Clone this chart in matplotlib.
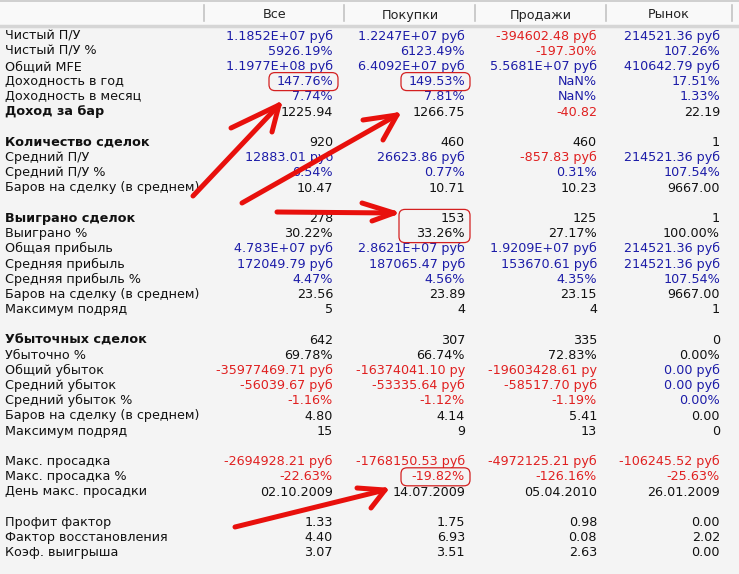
import matplotlib
matplotlib.use("Agg")
import matplotlib.pyplot as plt
from matplotlib.patches import FancyBboxPatch

# column headers
headers = ["Все", "Покупки", "Продажи", "Рынок"]

# row labels, None = empty spacer row
labels = [
    "Чистый П/У", "Чистый П/У %", "Общий MFE", "Доходность в год",
    "Доходность в месяц", "Доход за бар", None,
    "Количество сделок", "Средний П/У", "Средний П/У %",
    "Баров на сделку (в среднем)", None,
    "Выиграно сделок", "Выиграно %", "Общая прибыль", "Средняя прибыль",
    "Средняя прибыль %", "Баров на сделку (в среднем)", "Максимум подряд", None,
    "Убыточных сделок", "Убыточно %", "Общий убыток", "Средний убыток",
    "Средний убыток %", "Баров на сделку (в среднем)", "Максимум подряд", None,
    "Макс. просадка", "Макс. просадка %", "День макс. просадки", None,
    "Профит фактор", "Фактор восстановления", "Коэф. выигрыша",
]
bold_labels = {"Доход за бар", "Количество сделок", "Выиграно сделок", "Убыточных сделок"}

col_all = [
    "1.1852E+07 руб", "5926.19%", "1.1977E+08 руб", "147.76%", "7.74%", "1225.94", None,
    "920", "12883.01 руб", "0.54%", "10.47", None,
    "278", "30.22%", "4.783E+07 руб", "172049.79 руб", "4.47%", "23.56", "5", None,
    "642", "69.78%", "-35977469.71 руб", "-56039.67 руб", "-1.16%", "4.80", "15", None,
    "-2694928.21 руб", "-22.63%", "02.10.2009", None,
    "1.33", "4.40", "3.07",
]
col_long = [
    "1.2247E+07 руб", "6123.49%", "6.4092E+07 руб", "149.53%", "7.81%", "1266.75", None,
    "460", "26623.86 руб", "0.77%", "10.71", None,
    "153", "33.26%", "2.8621E+07 руб", "187065.47 руб", "4.56%", "23.89", "4", None,
    "307", "66.74%", "-16374041.10 ру", "-53335.64 руб", "-1.12%", "4.14", "9", None,
    "-1768150.53 руб", "-19.82%", "14.07.2009", None,
    "1.75", "6.93", "3.51",
]
col_short = [
    "-394602.48 руб", "-197.30%", "5.5681E+07 руб", "NaN%", "NaN%", "-40.82", None,
    "460", "-857.83 руб", "0.31%", "10.23", None,
    "125", "27.17%", "1.9209E+07 руб", "153670.61 руб", "4.35%", "23.15", "4", None,
    "335", "72.83%", "-19603428.61 ру", "-58517.70 руб", "-1.19%", "5.41", "13", None,
    "-4972125.21 руб", "-126.16%", "05.04.2010", None,
    "0.98", "0.08", "2.63",
]
col_market = [
    "214521.36 руб", "107.26%", "410642.79 руб", "17.51%", "1.33%", "22.19", None,
    "1", "214521.36 руб", "107.54%", "9667.00", None,
    "1", "100.00%", "214521.36 руб", "214521.36 руб", "107.54%", "9667.00", "1", None,
    "0", "0.00%", "0.00 руб", "0.00 руб", "0.00%", "0.00", "0", None,
    "-106245.52 руб", "-25.63%", "26.01.2009", None,
    "0.00", "2.02", "0.00",
]
columns = [col_all, col_long, col_short, col_market]

# highlighted cells (column, first row, last row)
highlights = [(0, 3, 3), (1, 3, 3), (1, 12, 13), (1, 29, 29)]

BLUE = "#1c1ca8"
RED = "#e02020"
BLACK = "#111111"


def cell_color(s):
    if s.startswith("-"):
        return RED
    if s.endswith("руб") or s.endswith("ру") or s.endswith("%"):
        return BLUE
    return BLACK


# rows whose values are always black (counts, bars, dates)
black_rows = {7, 10, 12, 13, 17, 18, 20, 21, 25, 26, 30}

W, H = 739, 574
fig = plt.figure(figsize=(W / 100, H / 100), dpi=100)
fig.patch.set_facecolor("#f4f4f4")
ax = fig.add_axes([0, 0, 1, 1])
ax.set_xlim(0, W)
ax.set_ylim(H, 0)
ax.axis("off")

# header band
ax.add_patch(plt.Rectangle((0, 0), W, 25, color="#f9f9f9", zorder=0))
ax.plot([0, W], [1, 1], color="#c8c8c8", lw=1.2)
ax.plot([0, W], [26, 26], color="#d6d6d6", lw=2.5)
separators = [204, 344, 475, 606, 732]
for sx in separators:
    ax.plot([sx, sx], [5, 21], color="#c4c4c4", lw=1.2)
header_x = [275, 410, 541, 669]
for hx, h in zip(header_x, headers):
    ax.text(hx, 15, h, ha="center", va="center", fontsize=9.2, color="#222222")

y0, dy = 36, 15.2
right_x = [333, 465, 597, 720]
for i, lab in enumerate(labels):
    if lab is None:
        continue
    y = y0 + i * dy
    ax.text(5, y, lab, ha="left", va="center", fontsize=9.2, color=BLACK,
            fontweight="bold" if lab in bold_labels else "normal")
    for c, col in enumerate(columns):
        s = col[i]
        colr = BLACK if (i in black_rows and not s.startswith("-")) else cell_color(s)
        ax.text(right_x[c], y, s, ha="right", va="center", fontsize=9.2, color=colr)

# hand drawn red boxes around highlighted cells
for c, r0, r1 in highlights:
    x1 = right_x[c] + 5
    x0 = right_x[c] - 66 if r0 != r1 else right_x[c] - 64
    yt = y0 + r0 * dy - 9
    yb = y0 + r1 * dy + 9
    box = FancyBboxPatch((x0, yt), x1 - x0, yb - yt, boxstyle="round,pad=0,rounding_size=6",
                         fill=False, ec="#d42020", lw=0.9, zorder=5)
    ax.add_patch(box)

# hand drawn arrows: shaft start, tip, two head ends
arrows = [
    ((193, 196), (279, 105), (231, 128), (272, 132)),
    ((242, 203), (397, 115), (363, 120), (383, 140)),
    ((277, 212), (394, 213), (362, 203), (372, 221)),
    ((235, 527), (385, 490), (357, 488), (371, 508)),
]
for (sx, sy), (tx, ty), h1, h2 in arrows:
    ax.plot([sx, tx], [sy, ty], color="#e8100c", lw=3.6, solid_capstyle="round", zorder=6)
    for hx, hy in (h1, h2):
        ax.plot([hx, tx], [hy, ty], color="#e8100c", lw=3.6, solid_capstyle="round", zorder=6)

fig.savefig("out.png", dpi=100, facecolor=fig.get_facecolor())
